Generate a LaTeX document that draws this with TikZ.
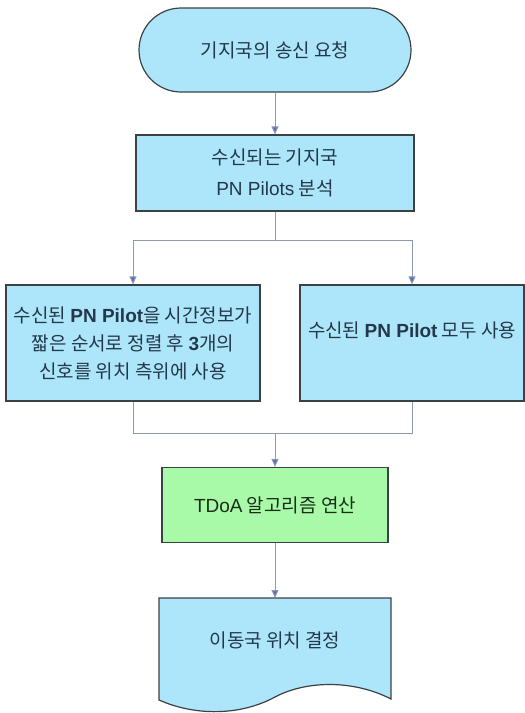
\documentclass[tikz,border=0pt]{standalone}
\usepackage{fontspec}
\usepackage{tikz}
\usetikzlibrary{arrows.meta, positioning, calc}
\setmainfont{Noto Sans CJK KR}
\newfontfamily\latfont{Liberation Sans}
\definecolor{boxblue}{HTML}{ADE6FA}
\definecolor{boxgreen}{HTML}{A8FAA8}
\definecolor{edgegray}{HTML}{3C4146}
\definecolor{linkgray}{HTML}{8C9AB4}
\definecolor{tipblue}{HTML}{5A6EB4}
\definecolor{textblue}{HTML}{23384A}
\definecolor{textgreen}{HTML}{1A2E1A}
\newcommand{\pn}[1]{{\latfont\bfseries #1}}

\begin{document}
\begin{tikzpicture}[
    x=1pt, y=-1pt,
    flowbox/.style={draw=edgegray, line width=1.2pt, fill=#1, inner sep=0pt,
                    align=center, text=textblue, font=\fontsize{19}{28}\selectfont},
    arr/.style={-{Triangle[length=8pt, width=7pt, fill=tipblue]}, draw=linkgray, line width=1pt},
    link/.style={draw=linkgray, line width=1pt},
]
    \useasboundingbox (0,0) rectangle (525,713);

    \node[flowbox=boxblue, rounded corners=42pt, minimum width=272pt, minimum height=84pt] (request) at (275, 50) {기지국의 송신 요청};
    \node[flowbox=boxblue, minimum width=278pt, minimum height=76pt, font=\fontsize{19}{31}\selectfont] (analyse) at (275, 173) {수신되는 기지국\\{\latfont PN Pilots} 분석};
    \node[flowbox=boxblue, minimum width=254pt, minimum height=116pt] (sorted) at (133, 343) {수신된 \pn{PN Pilot}을 시간정보가\\짧은 순서로 정렬 후 \pn{3}개의\\신호를 위치 측위에 사용};
    \node[flowbox=boxblue, minimum width=224pt, minimum height=116pt, text depth=26pt] (useall) at (412, 343) {수신된 \pn{PN Pilot} 모두 사용};
    \node[flowbox=boxgreen, text=textgreen, minimum width=226pt, minimum height=75pt] (tdoa) at (275, 505) {{\latfont TDoA} 알고리즘 연산};

    % document shape with wavy bottom
    \draw[draw=edgegray, line width=1.2pt, fill=boxblue]
        (159, 598) -- (391, 598) -- (391, 699)
        .. controls (352, 679) and (305, 681) .. (275, 697)
        .. controls (240, 716) and (195, 716) .. (159, 700) -- cycle;
    \node[text=textblue, font=\fontsize{19}{28}\selectfont] (result) at (275, 640) {이동국 위치 결정};
    \coordinate (resulttop) at (275, 598);

    \coordinate (split) at (275, 240);
    \coordinate (merge) at (275, 433);

    \draw[arr] (request) -- (analyse);
    \draw[link] (analyse) -- (split);
    \draw[arr] (split) -| (sorted);
    \draw[arr] (split) -| (useall);
    \draw[link] (sorted) |- (merge);
    \draw[link] (useall) |- (merge);
    \draw[arr] (merge) -- (tdoa);
    \draw[arr] (tdoa) -- (resulttop);
\end{tikzpicture}
\end{document}
